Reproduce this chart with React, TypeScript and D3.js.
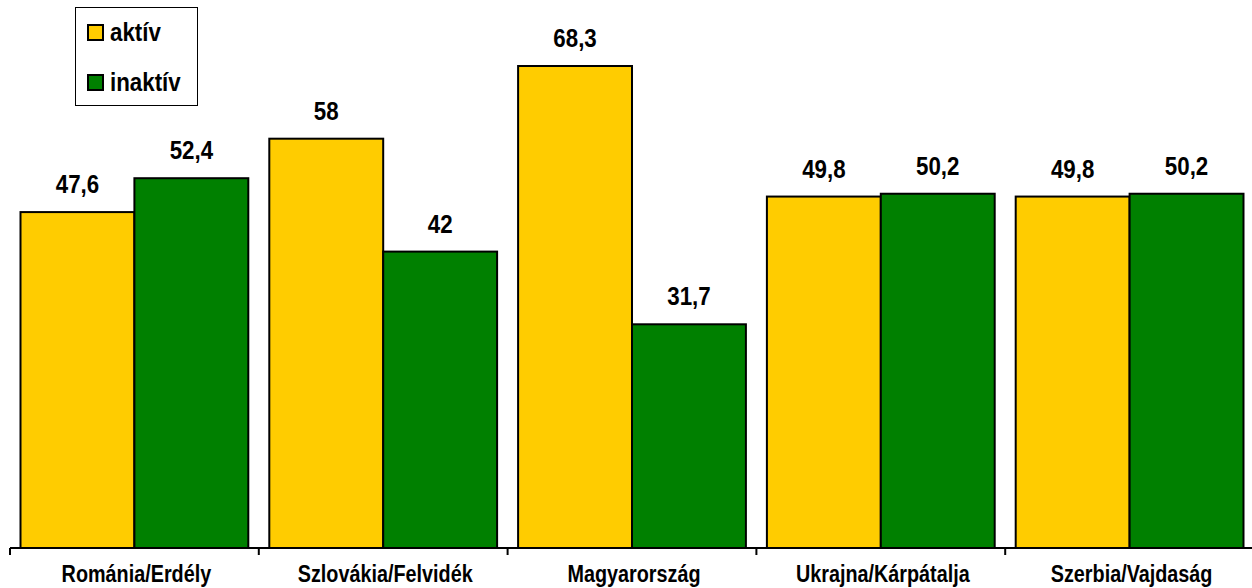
import React, { useRef, useEffect } from 'react';
import * as d3 from 'd3';

const categories = ['Románia/Erdély', 'Szlovákia/Felvidék', 'Magyarország', 'Ukrajna/Kárpátalja', 'Szerbia/Vajdaság'];
const seriesNames = ['aktív', 'inaktív'];
const aktiv = [47.6, 58, 68.3, 49.8, 49.8];
const inaktiv = [52.4, 42, 31.7, 50.2, 50.2];
const valueLabels = [
  ['47,6', '58', '68,3', '49,8', '49,8'],
  ['52,4', '42', '31,7', '50,2', '50,2'],
];
const colors = ['#FFCC00', '#008000'];

const FONT = "'Liberation Sans', Arial, sans-serif";

const App: React.FC = () => {
  const svgRef = useRef<SVGSVGElement>(null);
  const width = 1252;
  const height = 588;

  useEffect(() => {
    if (!svgRef.current) return;
    const svg = d3.select(svgRef.current);
    svg.selectAll('*').remove();

    const axisY = 548;
    const x = d3.scaleBand<string>()
      .domain(categories)
      .range([10, 1254])
      .paddingInner(0)
      .paddingOuter(0);

    const y = d3.scaleLinear()
      .domain([0, 70])
      .range([axisY, axisY - 70 * 7.057]);

    const series = [aktiv, inaktiv];
    const gap = 10.5;
    const barW = (x.bandwidth() - 2 * gap) / 2;

    // bars + value labels
    series.forEach((vals, s) => {
      svg.append('g')
        .selectAll('rect')
        .data(vals)
        .enter()
        .append('rect')
        .attr('x', (_, i) => (x(categories[i]) || 0) + gap + s * barW)
        .attr('y', d => y(d))
        .attr('width', barW)
        .attr('height', d => axisY - y(d))
        .attr('fill', colors[s])
        .attr('stroke', '#000')
        .attr('stroke-width', 2);

      svg.append('g')
        .selectAll('text')
        .data(vals)
        .enter()
        .append('text')
        .attr('transform', (d, i) =>
          `translate(${(x(categories[i]) || 0) + gap + s * barW + barW / 2}, ${y(d) - 19}) scale(0.93, 1.05)`)
        .attr('text-anchor', 'middle')
        .style('font-family', FONT)
        .style('font-weight', 'bold')
        .style('font-size', '24px')
        .style('fill', '#000')
        .text((_, i) => valueLabels[s][i]);
    });

    // x axis
    svg.append('line')
      .attr('x1', 10)
      .attr('x2', 1254)
      .attr('y1', axisY)
      .attr('y2', axisY)
      .attr('stroke', '#000')
      .attr('stroke-width', 2);

    categories.forEach(c => {
      const x0 = x(c) || 0;
      svg.append('line')
        .attr('x1', x0)
        .attr('x2', x0)
        .attr('y1', axisY)
        .attr('y2', axisY + 7)
        .attr('stroke', '#000')
        .attr('stroke-width', 2);
    });

    svg.append('g')
      .selectAll('text')
      .data(categories)
      .enter()
      .append('text')
      .attr('transform', d => `translate(${(x(d) || 0) + x.bandwidth() / 2 + 2}, 582) scale(0.9, 1.05)`)
      .attr('text-anchor', 'middle')
      .style('font-family', FONT)
      .style('font-weight', 'bold')
      .style('font-size', '22px')
      .style('fill', '#000')
      .text(d => d);

    // legend
    const legend = svg.append('g');
    legend.append('rect')
      .attr('x', 75.5)
      .attr('y', 7.5)
      .attr('width', 122)
      .attr('height', 98)
      .attr('fill', '#fff')
      .attr('stroke', '#000')
      .attr('stroke-width', 1);

    seriesNames.forEach((name, i) => {
      const g = legend.append('g').attr('transform', `translate(88, ${25 + i * 50})`);
      g.append('rect')
        .attr('width', 15)
        .attr('height', 15)
        .attr('fill', colors[i])
        .attr('stroke', '#000')
        .attr('stroke-width', 2);
      g.append('text')
        .attr('transform', 'translate(22, 16) scale(0.93, 1.05)')
        .style('font-family', FONT)
        .style('font-weight', 'bold')
        .style('font-size', '24px')
        .style('fill', '#000')
        .text(name);
    });
  }, []);

  return (
    <svg
      ref={svgRef}
      width={width}
      height={height}
      style={{ position: 'absolute', left: 0, top: 0, background: '#fff' }}
    />
  );
};

export default App;
